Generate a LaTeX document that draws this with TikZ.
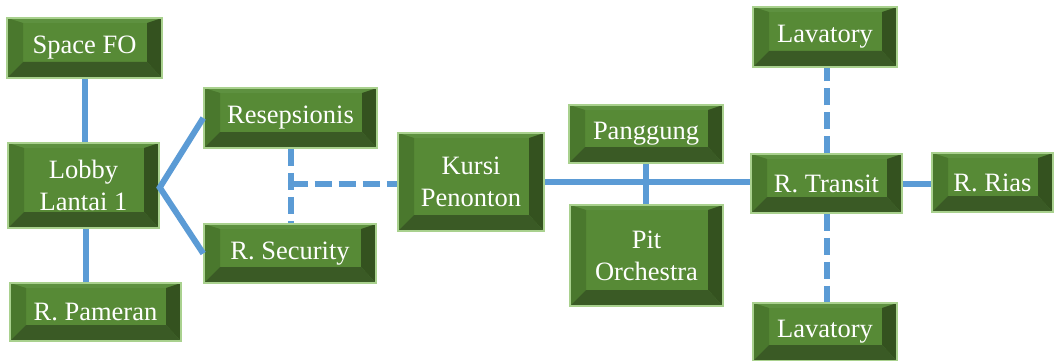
\documentclass[tikz,border=0pt]{standalone}
\usepackage{fontspec}
\setmainfont{Liberation Serif}
\usetikzlibrary{calc}

\definecolor{roomedge}{HTML}{A9D18E}
\definecolor{roomface}{HTML}{578A36}
\definecolor{bevtop}{HTML}{5E9140}
\definecolor{bevleft}{HTML}{4A782D}
\definecolor{bevright}{HTML}{34521F}
\definecolor{bevbottom}{HTML}{3A5A25}
\definecolor{link}{HTML}{5B9BD5}

\tikzset{
  room/.style={
    draw=roomedge, line width=1.5pt, fill=roomface,
    inner sep=0pt, align=center, text=white,
    font=\fontsize{26.5}{32}\selectfont,
    path picture={
      \coordinate (bvNW) at (path picture bounding box.north west);
      \coordinate (bvNE) at (path picture bounding box.north east);
      \coordinate (bvSW) at (path picture bounding box.south west);
      \coordinate (bvSE) at (path picture bounding box.south east);
      \coordinate (bvnw) at ([shift={(16pt,-5pt)}]bvNW);
      \coordinate (bvne) at ([shift={(-15pt,-5pt)}]bvNE);
      \coordinate (bvsw) at ([shift={(16pt,16pt)}]bvSW);
      \coordinate (bvse) at ([shift={(-15pt,16pt)}]bvSE);
      \fill[bevtop] (bvNW) -- (bvNE) -- (bvne) -- (bvnw) -- cycle;
      \fill[bevleft] (bvNW) -- (bvnw) -- (bvsw) -- (bvSW) -- cycle;
      \fill[bevright] (bvNE) -- (bvne) -- (bvse) -- (bvSE) -- cycle;
      \fill[bevbottom] (bvSW) -- (bvsw) -- (bvse) -- (bvSE) -- cycle;
    }},
  solidlink/.style={draw=link, line width=6pt},
  dashlink/.style={draw=link, line width=6pt, dash pattern=on 17pt off 7pt}
}

\begin{document}
\begin{tikzpicture}[x=1pt, y=-1pt]
\useasboundingbox (0,0) rectangle (1054,361);

% rooms
\node[room, minimum width=155pt, minimum height=60pt] (sfo) at (84.5,48) {Space FO};
\node[room, minimum width=151pt, minimum height=85pt] (lobby) at (83.5,185.5) {Lobby\\Lantai 1};
\node[room, minimum width=171pt, minimum height=58pt] (pameran) at (95.5,312) {R. Pameran};
\node[room, minimum width=173pt, minimum height=60pt] (resep) at (290.5,118) {Resepsionis};
\node[room, minimum width=172pt, minimum height=59pt] (secur) at (290,253.5) {R. Security};
\node[room, minimum width=146pt, minimum height=98pt] (kursi) at (471,182) {Kursi\\Penonton};
\node[room, minimum width=154pt, minimum height=58pt] (panggung) at (646,134) {Panggung};
\node[room, minimum width=153pt, minimum height=101pt] (pit) at (646.5,255.5) {Pit\\Orchestra};
\node[room, minimum width=151pt, minimum height=59pt] (transit) at (826.5,183.5) {R. Transit};
\node[room, minimum width=121pt, minimum height=59pt] (rias) at (992.5,182.5) {R. Rias};
\node[room, minimum width=144pt, minimum height=60pt] (lavup) at (825,37) {Lavatory};
\node[room, minimum width=144pt, minimum height=58pt] (lavdown) at (825,332) {Lavatory};

% solid connections
\draw[solidlink] (sfo.south) -- (sfo.south |- lobby.north);
\draw[solidlink] ([xshift=2pt]lobby.south) -- ([xshift=2pt]lobby.south |- pameran.north);
\draw[solidlink] (resep.west) -- ([yshift=-2pt]lobby.east) -- (secur.west);
\draw[solidlink] (kursi.east) -- (kursi.east -| transit.west);
\draw[solidlink] (panggung.south) -- (panggung.south |- pit.north);
\draw[solidlink] (transit.east) -- (transit.east -| rias.west);

% dashed connections
\coordinate (fork) at ([yshift=-2pt]resep.south |- kursi.west);
\draw[dashlink] (resep.south) -- (resep.south |- secur.north);
\draw[dashlink] (fork) -- (fork -| kursi.west);
\draw[dashlink] (transit.north) -- (transit.north |- lavup.south);
\draw[dashlink] (transit.south) -- (transit.south |- lavdown.north);
\end{tikzpicture}
\end{document}
